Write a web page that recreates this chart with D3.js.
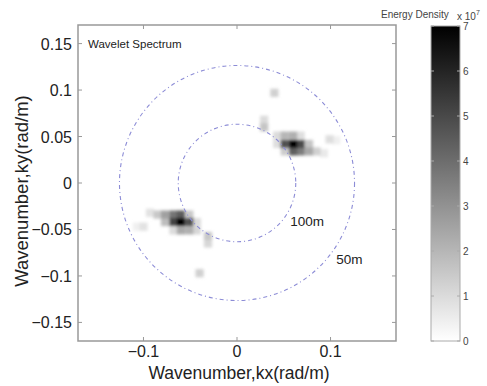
<!DOCTYPE html>
<html>
<head>
<meta charset="utf-8">
<script src="https://cdn.jsdelivr.net/npm/d3@7"></script>
<style>
  body { margin: 0; background: #fff; }
  text { font-family: "Liberation Sans", Arial, sans-serif; fill: #222; }
</style>
</head>
<body>
<div id="chart"></div>
<script>
/* spectrum cells: [kx, ky, energy (x 1e7)] */
let upperBlob = [
    [0.043, 0.051, 1.0], [0.051, 0.051, 2.0], [0.060, 0.051, 2.2], [0.068, 0.051, 0.9],
    [0.043, 0.042, 0.9], [0.051, 0.042, 4.8], [0.060, 0.042, 7.0], [0.068, 0.042, 5.0], [0.077, 0.042, 1.6],
    [0.051, 0.034, 1.4], [0.060, 0.034, 4.4], [0.068, 0.034, 3.6], [0.077, 0.034, 2.4], [0.085, 0.034, 1.3],
    [0.093, 0.032, 0.6]
];
let lowerBlob = [
    [-0.043, -0.051, 1.1], [-0.051, -0.051, 2.2], [-0.060, -0.051, 2.4], [-0.068, -0.051, 1.0],
    [-0.043, -0.042, 1.0], [-0.051, -0.042, 4.8], [-0.060, -0.042, 7.0], [-0.068, -0.042, 5.2], [-0.077, -0.042, 1.8],
    [-0.051, -0.034, 1.5], [-0.060, -0.034, 4.5], [-0.068, -0.034, 3.8], [-0.077, -0.034, 2.6], [-0.085, -0.034, 1.5],
    [-0.093, -0.032, 0.8]
];
let minorPatches = [
    [0.040, 0.097, 1.3], [0.029, 0.068, 1.0], [0.029, 0.060, 1.6], [0.099, 0.047, 0.9], [0.106, 0.046, 0.4],
    [-0.040, -0.097, 1.3], [-0.031, -0.057, 1.5], [-0.031, -0.065, 1.1], [-0.100, -0.047, 0.8], [-0.107, -0.047, 0.4]
];
let xTicks = [-0.1, 0, 0.1];
let yTicks = [-0.15, -0.1, -0.05, 0, 0.05, 0.1, 0.15];
let colorTicks = [0, 1, 2, 3, 4, 5, 6, 7];
let wavelengths = [100, 50];   // metres
let ringLabels = [["100m", 0.057, -0.046], ["50m", 0.106, -0.087]];

let width = 487, height = 386;
let plot = {left: 78, top: 25, right: 396, bottom: 341};
let cbar = {left: 431, right: 460, top: 26, bottom: 341};
let cellSize = 0.0088;

let svg = d3.select("#chart")
    .append("svg")
    .attr("width", width)
    .attr("height", height);

let x = d3.scaleLinear().domain([-0.17, 0.17]).range([plot.left, plot.right]);
let y = d3.scaleLinear().domain([-0.17, 0.17]).range([plot.bottom, plot.top]);
let color = d3.scaleLinear().domain([0, 7]).range(["#ffffff", "#000000"]);

let defs = svg.append("defs");
defs.append("filter").attr("id", "soft")
    .attr("x", "-20%").attr("y", "-20%").attr("width", "140%").attr("height", "140%")
    .append("feGaussianBlur").attr("stdDeviation", 1.6);
defs.append("clipPath").attr("id", "plotclip")
    .append("rect")
    .attr("x", plot.left).attr("y", plot.top)
    .attr("width", plot.right - plot.left).attr("height", plot.bottom - plot.top);

// heat map cells, lightest first so dark cells sit on top
let cells = upperBlob.concat(lowerBlob, minorPatches);
cells.sort(function(a, b) { return a[2] - b[2]; });
let cellW = x(cellSize) - x(0);
let cellH = y(0) - y(cellSize);
svg.append("g")
    .attr("filter", "url(#soft)")
    .selectAll("rect")
    .data(cells)
    .enter()
    .append("rect")
    .attr("x", function(d) { return x(d[0]) - cellW / 2; })
    .attr("y", function(d) { return y(d[1]) - cellH / 2; })
    .attr("width", cellW)
    .attr("height", cellH)
    .attr("fill", function(d) { return color(d[2]); });

// wavelength rings
let rings = svg.append("g").attr("clip-path", "url(#plotclip)");
rings.selectAll("circle")
    .data(wavelengths)
    .enter()
    .append("circle")
    .attr("cx", x(0))
    .attr("cy", y(0))
    .attr("r", function(d) { return x(2 * Math.PI / d) - x(0); })
    .attr("fill", "none")
    .attr("stroke", "#8c8cd6")
    .attr("stroke-width", 1.1)
    .attr("stroke-dasharray", "4,3,1,3");

svg.append("g").selectAll("text")
    .data(ringLabels)
    .enter()
    .append("text")
    .attr("x", function(d) { return x(d[1]); })
    .attr("y", function(d) { return y(d[2]); })
    .style("font-size", "13.5px")
    .text(function(d) { return d[0]; });

// axes box with inward ticks
let axisColor = "#999";
svg.append("rect")
    .attr("x", plot.left).attr("y", plot.top)
    .attr("width", plot.right - plot.left).attr("height", plot.bottom - plot.top)
    .attr("fill", "none").attr("stroke", axisColor).attr("stroke-width", 1.5);

let ticks = svg.append("g").attr("stroke", axisColor).attr("stroke-width", 1);
xTicks.forEach(function(t) {
    ticks.append("line").attr("x1", x(t)).attr("x2", x(t)).attr("y1", plot.bottom).attr("y2", plot.bottom - 4);
    ticks.append("line").attr("x1", x(t)).attr("x2", x(t)).attr("y1", plot.top).attr("y2", plot.top + 4);
});
yTicks.forEach(function(t) {
    ticks.append("line").attr("x1", plot.left).attr("x2", plot.left + 4).attr("y1", y(t)).attr("y2", y(t));
    ticks.append("line").attr("x1", plot.right).attr("x2", plot.right - 4).attr("y1", y(t)).attr("y2", y(t));
});

svg.append("g").selectAll("text")
    .data(xTicks)
    .enter()
    .append("text")
    .attr("x", function(d) { return x(d); })
    .attr("y", 357)
    .style("text-anchor", "middle")
    .style("font-size", "16px")
    .text(function(d) { return d3.format("")(d); });

svg.append("g").selectAll("text")
    .data(yTicks)
    .enter()
    .append("text")
    .attr("x", plot.left - 6)
    .attr("y", function(d) { return y(d) + 6; })
    .style("text-anchor", "end")
    .style("font-size", "16px")
    .text(function(d) { return d3.format("")(d); });

// axis labels
svg.append("text")
    .attr("x", (plot.left + plot.right) / 2 + 2)
    .attr("y", 379)
    .style("text-anchor", "middle")
    .style("font-size", "17.5px")
    .text("Wavenumber,kx(rad/m)");

svg.append("text")
    .attr("transform", `translate(28, ${(plot.top + plot.bottom) / 2 + 8}) rotate(-90)`)
    .style("text-anchor", "middle")
    .style("font-size", "18.5px")
    .text("Wavenumber,ky(rad/m)");

svg.append("text")
    .attr("x", 88)
    .attr("y", 48)
    .style("font-size", "11.5px")
    .text("Wavelet Spectrum");

// colour bar
let cy = d3.scaleLinear().domain([0, 7]).range([cbar.bottom, cbar.top]);
let grad = defs.append("linearGradient")
    .attr("id", "cgrad")
    .attr("x1", 0).attr("x2", 0).attr("y1", 1).attr("y2", 0);
colorTicks.forEach(function(t) {
    grad.append("stop").attr("offset", t / 7).attr("stop-color", color(t));
});
svg.append("rect")
    .attr("x", cbar.left).attr("y", cbar.top)
    .attr("width", cbar.right - cbar.left).attr("height", cbar.bottom - cbar.top)
    .attr("fill", "url(#cgrad)")
    .attr("stroke", "#aaa").attr("stroke-width", 1);

let cticks = svg.append("g").attr("stroke", "#aaa").attr("stroke-width", 1);
colorTicks.forEach(function(t) {
    cticks.append("line").attr("x1", cbar.left).attr("x2", cbar.left + 3).attr("y1", cy(t)).attr("y2", cy(t));
    cticks.append("line").attr("x1", cbar.right).attr("x2", cbar.right - 3).attr("y1", cy(t)).attr("y2", cy(t));
});

svg.append("g").selectAll("text")
    .data(colorTicks)
    .enter()
    .append("text")
    .attr("x", cbar.right + 3)
    .attr("y", function(d) { return cy(d) + 4; })
    .style("font-size", "10px")
    .style("fill", "#444")
    .text(function(d) { return d; });

svg.append("text")
    .attr("x", 381)
    .attr("y", 18)
    .style("font-size", "10px")
    .style("fill", "#444")
    .text("Energy Density");

let expo = svg.append("text")
    .attr("x", 457)
    .attr("y", 20)
    .style("font-size", "10px")
    .style("fill", "#444");
expo.append("tspan").text("x 10");
expo.append("tspan").attr("dy", -5).style("font-size", "7px").text("7");
</script>
</body>
</html>
